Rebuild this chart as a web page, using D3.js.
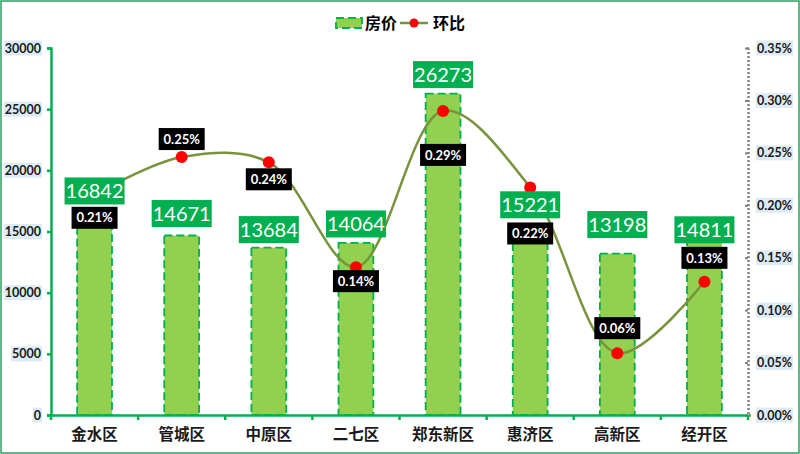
<!DOCTYPE html>
<html><head><meta charset="utf-8">
<script src="https://cdn.jsdelivr.net/npm/d3@7"></script>
<style>
html,body{margin:0;padding:0;background:#fff;}
svg{display:block;}
</style></head>
<body><svg id="c" width="800" height="454"></svg>
<script>
// ---- data ----
const categories = ["金水区","管城区","中原区","二七区","郑东新区","惠济区","高新区","经开区"];
const prices = [16842, 14671, 13684, 14064, 26273, 15221, 13198, 14811];
const mom = [0.0021, 0.00246, 0.00241, 0.00141, 0.0029, 0.00217, 0.00059, 0.00127];
const leftTicks = [0, 5000, 10000, 15000, 20000, 25000, 30000];
const rightTicks = [0, 0.0005, 0.001, 0.0015, 0.002, 0.0025, 0.003, 0.0035];
const seriesNames = ["房价", "环比"];

// ---- layout (label nudges, not data) ----
const valueLabelDy = [-18, -22, -18, -19, -19, -24, -29, -4];
const pctLabelDy = [23, -18, 17, 14, 44, 46, -25, -24];

const svg = d3.select("#c");
const X0 = 51, X1 = 748, Y0 = 415, Y1 = 48;
const numFont = "Lato, 'Open Sans', 'DejaVu Sans', sans-serif";
const cjkFont = "'Noto Sans CJK SC', 'Noto Sans', sans-serif";

// border
svg.append("rect").attr("x",1).attr("y",1).attr("width",798).attr("height",452)
  .attr("fill","#fff").attr("stroke","#2f9e62").attr("stroke-width",1.5);

const x = d3.scaleBand().domain(categories).range([X0, X1]).paddingInner(0.6).paddingOuter(0.3);
const y = d3.scaleLinear().domain([0, 30000]).range([Y0, Y1]);
const y2 = d3.scaleLinear().domain([0, 0.0035]).range([Y0, Y1]);

// bars
svg.append("g").selectAll("rect").data(prices).join("rect")
  .attr("x",(d,i)=>x(categories[i]))
  .attr("y",d=>y(d))
  .attr("width",x.bandwidth())
  .attr("height",d=>Y0-y(d))
  .attr("fill","#92d050")
  .attr("stroke","#00b050")
  .attr("stroke-width",1.8)
  .attr("stroke-dasharray","8,4");

// left axis
const gl = svg.append("g").attr("transform",`translate(${X0},0)`)
  .call(d3.axisLeft(y).tickValues(leftTicks).tickSize(4).tickPadding(6).tickFormat(d3.format("d")));
gl.select(".domain").attr("stroke","#00b050").attr("stroke-width",2.5);
gl.selectAll(".tick line").attr("stroke","#00b050").attr("stroke-width",2.5);
gl.selectAll(".tick text").attr("font-family",numFont).attr("font-weight",700)
  .attr("font-size",12.5).attr("fill","#1a1a1a");
gl.selectAll(".tick").each(function(){
  const t = d3.select(this).select("text");
  const bb = t.node().getBBox();
  d3.select(this).insert("rect","text").attr("x",bb.x-1).attr("y",bb.y).attr("width",bb.width+2)
    .attr("height",bb.height).attr("fill","#ddebf7");
});

// right axis
const gr = svg.append("g").attr("transform",`translate(${X1},0)`)
  .call(d3.axisRight(y2).tickValues(rightTicks).tickSize(3).tickPadding(6).tickFormat(d3.format(".2%")));
gr.select(".domain").attr("stroke","#808080").attr("stroke-width",2.5).attr("stroke-dasharray","2,2");
gr.selectAll(".tick line").attr("stroke","#808080").attr("stroke-width",2).attr("x2",-3);
gr.selectAll(".tick text").attr("font-family",numFont).attr("font-weight",700)
  .attr("font-size",12.5).attr("fill","#1a1a1a");
gr.selectAll(".tick").each(function(){
  const t = d3.select(this).select("text");
  const bb = t.node().getBBox();
  d3.select(this).insert("rect","text").attr("x",bb.x-1).attr("y",bb.y).attr("width",bb.width+2)
    .attr("height",bb.height).attr("fill","#ddebf7");
});

// bottom axis
const gb = svg.append("g").attr("transform",`translate(0,${Y0})`)
  .call(d3.axisBottom(x).tickSize(0).tickPadding(14));
gb.select(".domain").attr("stroke","#00b050").attr("stroke-width",2.5);
gb.selectAll(".tick text").attr("font-family",cjkFont).attr("font-weight",700)
  .attr("font-size",15.5).attr("fill","#1a1a1a");
const bounds = categories.map(c=>x(c) - x.step()*x.paddingInner()/2);
bounds.push(X1);
bounds[0] = X0;
gb.selectAll(".sep").data(bounds).join("line").attr("class","sep")
  .attr("x1",d=>d).attr("x2",d=>d).attr("y1",0).attr("y2",5)
  .attr("stroke","#00b050").attr("stroke-width",2.5);

// line
const cx = i => x(categories[i]) + x.bandwidth()/2;
const line = d3.line().x((d,i)=>cx(i)).y(d=>y2(d)).curve(d3.curveCatmullRom.alpha(0.5));
svg.append("path").datum(mom).attr("d",line).attr("fill","none")
  .attr("stroke","#77933c").attr("stroke-width",2.5);
svg.append("g").selectAll("circle").data(mom).join("circle")
  .attr("cx",(d,i)=>cx(i)).attr("cy",d=>y2(d)).attr("r",6).attr("fill","#ff0000");

// value labels
const vl = svg.append("g").selectAll("g").data(prices).join("g")
  .attr("transform",(d,i)=>`translate(${cx(i)},${y(d)+valueLabelDy[i]})`);
vl.append("rect").attr("x",-30).attr("y",-13.5).attr("width",60).attr("height",27).attr("fill","#00b050");
vl.append("text").attr("text-anchor","middle").attr("dy","0.36em")
  .attr("font-family",numFont).attr("font-size",20).attr("fill","#fff").text(d=>d);

// pct labels
const pl = svg.append("g").selectAll("g").data(mom).join("g")
  .attr("transform",(d,i)=>`translate(${cx(i)},${y2(d)+pctLabelDy[i]})`);
pl.append("rect").attr("x",-23).attr("y",-11).attr("width",46).attr("height",22).attr("fill","#000");
pl.append("text").attr("text-anchor","middle").attr("dy","0.36em")
  .attr("font-family",numFont).attr("font-weight",700).attr("font-size",13).attr("fill","#fff")
  .text(d=>d3.format(".2%")(d));

// legend
const lg = svg.append("g");
lg.append("rect").attr("x",336).attr("y",18).attr("width",26).attr("height",10)
  .attr("fill","#92d050").attr("stroke","#00b050").attr("stroke-width",1.8).attr("stroke-dasharray","8,4");
lg.append("text").attr("x",365).attr("y",23).attr("dy","0.35em").attr("font-family",cjkFont)
  .attr("font-weight",700).attr("font-size",16).attr("fill","#000").text(seriesNames[0]);
lg.append("line").attr("x1",400).attr("x2",428).attr("y1",23).attr("y2",23)
  .attr("stroke","#77933c").attr("stroke-width",2.5);
lg.append("circle").attr("cx",414).attr("cy",23).attr("r",4.5).attr("fill","#ff0000");
lg.append("text").attr("x",433).attr("y",23).attr("dy","0.35em").attr("font-family",cjkFont)
  .attr("font-weight",700).attr("font-size",16).attr("fill","#000").text(seriesNames[1]);
</script></body></html>
